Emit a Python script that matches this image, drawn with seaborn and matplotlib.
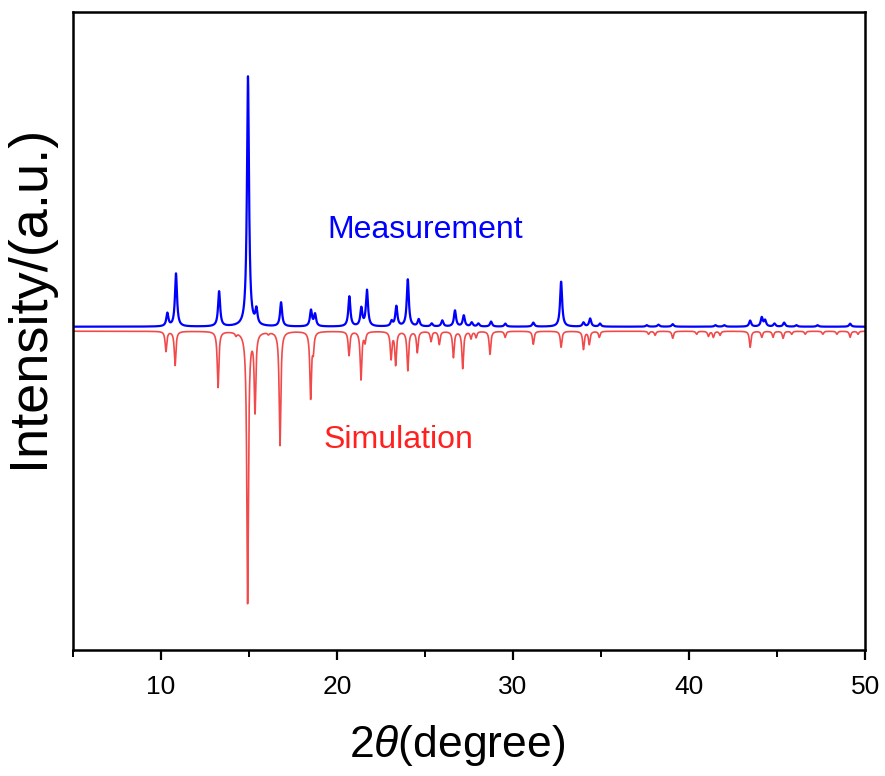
import numpy as np
import pandas as pd
import matplotlib
matplotlib.use("Agg")
import matplotlib.pyplot as plt
import seaborn as sns
from matplotlib.ticker import MultipleLocator
from matplotlib import font_manager

# ---------------- data (peak lists) ----------------
meas_pos = [10.36, 10.85, 13.30, 14.94, 15.42, 16.82, 18.52, 18.75, 20.70, 21.38,
            21.70, 23.10, 23.37, 24.02, 24.64, 25.38, 25.98, 26.70, 27.20, 27.65,
            28.03, 28.75, 29.56, 31.15, 32.73, 34.00, 34.38, 34.94, 37.60, 38.26,
            39.07, 41.50, 42.00, 43.47, 44.13, 44.32, 44.85, 45.40, 46.10, 47.30,
            49.15]
meas_int = [13, 53, 35, 250, 15, 24, 16, 12, 30, 18,
            36, 5, 20, 47, 7, 3, 6, 16, 11, 4,
            3, 5, 3, 4, 45, 4, 8, 3, 1.5, 2,
            2.5, 1.5, 1.5, 6, 9, 6, 3, 4, 1.5, 1.5,
            3]

sim_pos = [10.28, 10.80, 13.24, 14.26, 14.92, 15.34, 16.10, 16.76, 18.50, 18.65,
           20.68, 21.36, 21.59, 23.07, 23.33, 24.02, 24.56, 25.34, 25.81, 26.61,
           27.14, 27.61, 27.90, 28.69, 29.55, 31.15, 32.73, 34.00, 34.33, 34.90,
           37.70, 38.07, 39.07, 40.43, 41.10, 41.38, 41.76, 43.47, 44.13, 44.77,
           45.34, 45.83, 46.60, 47.60, 48.40, 49.15, 49.60]
sim_int = [20, 34, 56, 3, 271, 78, 2, 114, 66, 17,
           24, 48, 10, 27, 33, 39, 21, 10, 13, 26,
           37, 7, 6, 23, 6, 13, 16, 18, 13, 6,
           3, 4, 7, 3, 5, 6, 4, 16, 6, 6,
           7, 3, 3, 3, 3, 6, 3]

meas_offset = 0.0
sim_offset = -4.5
x_ticks = [10, 20, 30, 40, 50]

# ---------------- build profiles from peak lists ----------------
x = np.linspace(5, 50, 9001)

def pattern(pos, inten, fwhm):
    g = fwhm / 2.0
    y = np.zeros_like(x)
    for p, h in zip(pos, inten):
        y += h * g * g / ((x - p) ** 2 + g * g)
    return y

meas = meas_offset + pattern(meas_pos, meas_int, 0.14)
sim = sim_offset - pattern(sim_pos, sim_int, 0.11)
df = pd.DataFrame({"x": x, "meas": meas, "sim": sim})

# ---------------- style ----------------
sns.set_theme(style="ticks")
avail = {f.name for f in font_manager.fontManager.ttflist}
fam = [f for f in ["Liberation Sans Narrow", "Liberation Sans", "DejaVu Sans"] if f in avail]
plt.rcParams["font.family"] = fam
plt.rcParams["mathtext.fontset"] = "custom"
plt.rcParams["mathtext.it"] = fam[0] + ":italic"
plt.rcParams["mathtext.rm"] = fam[0]
plt.rcParams["text.color"] = "black"
plt.rcParams["axes.labelcolor"] = "black"
plt.rcParams["xtick.color"] = "black"

fig = plt.figure(figsize=(8.85, 7.76), dpi=100)
ax = fig.add_axes([0.0825, 0.1624, 0.895, 0.8221])

sns.lineplot(data=df, x="x", y="meas", ax=ax, color="#0000FF", lw=1.6, estimator=None, sort=False)
sns.lineplot(data=df, x="x", y="sim", ax=ax, color="#F24A4A", lw=1.2, estimator=None, sort=False)

ax.set_xlim(5, 50)
ax.set_ylim(-323.3, 314.7)
ax.set_xticks(x_ticks)
ax.xaxis.set_minor_locator(MultipleLocator(5))
ax.set_yticks([])
ax.tick_params(axis="x", which="major", length=7, width=1.6, labelsize=19, pad=11,
               color="black", labelcolor="black")
ax.tick_params(axis="x", which="minor", length=5, width=1.4, color="black")
for s in ax.spines.values():
    s.set_linewidth(1.8)
    s.set_color("black")

ax.set_xlabel(r"2$\mathit{\theta}$(degree)", fontsize=32, color="black")
ax.set_ylabel("Intensity/(a.u.)", fontsize=39, color="black")
ax.xaxis.set_label_coords(0.485, -0.115)
ax.yaxis.set_label_coords(-0.024, 0.555)

ax.text(25.0, 97, "Measurement", color="#0000FF", fontsize=23, ha="center", va="center")
ax.text(23.5, -113, "Simulation", color="#FF2020", fontsize=23, ha="center", va="center")

fig.savefig("out.png", dpi=100)
